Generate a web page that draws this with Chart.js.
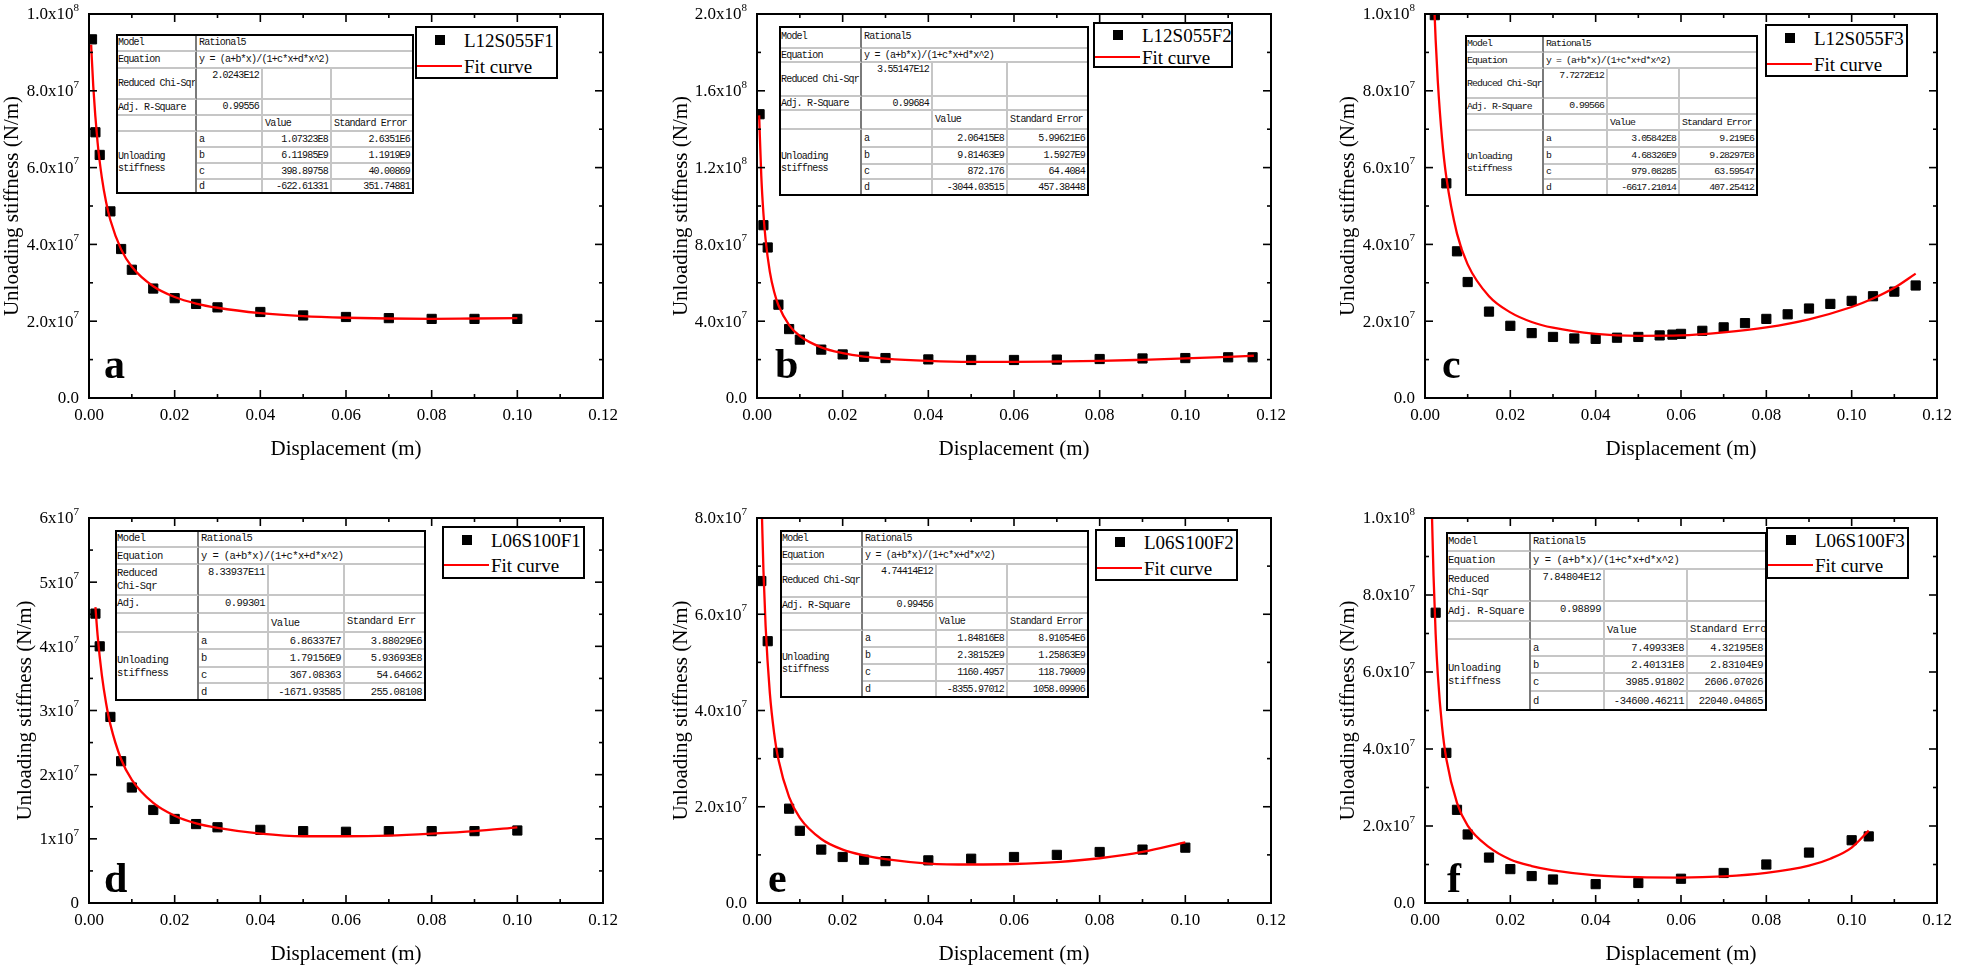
<!DOCTYPE html>
<html>
<head>
<meta charset="utf-8">
<script src="https://cdn.jsdelivr.net/npm/chart.js@4.4.1/dist/chart.umd.min.js"></script>
<style>
  html, body { margin: 0; padding: 0; background: #fff; }
  #page { position: relative; width: 1961px; height: 966px; overflow: hidden; background: #fff; }
  #page canvas { position: absolute; }
  .fit-table { position: absolute; box-sizing: border-box; border: 2px solid #000; background: #fff;
    overflow: hidden; font-family: 'Liberation Mono', 'DejaVu Sans Mono', monospace; color: #111; }
  .cell { position: absolute; box-sizing: border-box; display: flex; overflow: hidden;
    border-right: 2px solid #c6c6c6; border-bottom: 2px solid #c6c6c6;
    padding: 1px 2px 0 2px; line-height: 1.2; white-space: nowrap; }
  .cell.first { border-right-color: #7a7a7a; }
  .legend { position: absolute; box-sizing: border-box; border: 2px solid #000; background: #fff;
    font-family: 'Liberation Serif', 'Times New Roman', serif; font-size: 19px; color: #000; }
  .legend div { position: absolute; }
  .legend .txt { line-height: 1; transform: translateY(-50%); white-space: nowrap; }
</style>
</head>
<body>
<div id="page"></div>
<script>
// ---- shared axis ticks ----
const xTicks = [0, 0.02, 0.04, 0.06, 0.08, 0.10, 0.12];
const xTickLabels = ['0.00', '0.02', '0.04', '0.06', '0.08', '0.10', '0.12'];

// ---- a: L12S055F1 ----
const xA = [0.0007, 0.0015, 0.0025, 0.005, 0.0075, 0.01, 0.015, 0.02, 0.025, 0.03, 0.04, 0.05, 0.06, 0.07, 0.08, 0.09, 0.1];
const yA = [9.34e7, 6.92e7, 6.33e7, 4.86e7, 3.88e7, 3.34e7, 2.85e7, 2.60e7, 2.45e7, 2.36e7, 2.24e7, 2.15e7, 2.11e7, 2.08e7, 2.06e7, 2.06e7, 2.06e7];
const fitXA = [0.0005, 0.001, 0.002, 0.003, 0.004, 0.005, 0.0075, 0.01, 0.015, 0.02, 0.025, 0.03, 0.04, 0.05, 0.06, 0.07, 0.08, 0.09, 0.1];
const fitYA = [9.20e7, 8.11e7, 6.66e7, 5.74e7, 5.10e7, 4.63e7, 3.87e7, 3.42e7, 2.91e7, 2.63e7, 2.46e7, 2.35e7, 2.21e7, 2.13e7, 2.09e7, 2.07e7, 2.06e7, 2.07e7, 2.08e7];
const yTicksA = [0, 2e7, 4e7, 6e7, 8e7, 1e8];
const yLabelsA = ['0.0', '2.0x10^7', '4.0x10^7', '6.0x10^7', '8.0x10^7', '1.0x10^8'];
const statsA = ['2.0243E12', '0.99556'];
const valuesA = ['1.07323E8', '6.11985E9', '398.89758', '-622.61331'];
const errorsA = ['2.6351E6', '1.1919E9', '40.00869', '351.74881'];

// ---- b: L12S055F2 ----
const xB = [0.0006, 0.0015, 0.0025, 0.005, 0.0075, 0.01, 0.015, 0.02, 0.025, 0.03, 0.04, 0.05, 0.06, 0.07, 0.08, 0.09, 0.1, 0.11, 0.1157];
const yB = [1.478e8, 9.0e7, 7.84e7, 4.86e7, 3.59e7, 3.04e7, 2.52e7, 2.27e7, 2.15e7, 2.08e7, 2.01e7, 1.98e7, 1.98e7, 2.0e7, 2.03e7, 2.06e7, 2.08e7, 2.12e7, 2.12e7];
const fitXB = [0.0005, 0.001, 0.0015, 0.002, 0.003, 0.004, 0.005, 0.0075, 0.01, 0.015, 0.02, 0.025, 0.03, 0.04, 0.05, 0.06, 0.07, 0.08, 0.09, 0.1, 0.11, 0.116];
const fitYB = [1.472e8, 1.157e8, 9.61e7, 8.27e7, 6.57e7, 5.53e7, 4.83e7, 3.80e7, 3.23e7, 2.64e7, 2.34e7, 2.16e7, 2.05e7, 1.93e7, 1.88e7, 1.88e7, 1.90e7, 1.93e7, 1.99e7, 2.06e7, 2.14e7, 2.20e7];
const yTicksB = [0, 4e7, 8e7, 1.2e8, 1.6e8, 2e8];
const yLabelsB = ['0.0', '4.0x10^7', '8.0x10^7', '1.2x10^8', '1.6x10^8', '2.0x10^8'];
const statsB = ['3.55147E12', '0.99684'];
const valuesB = ['2.06415E8', '9.81463E9', '872.176', '-3044.03515'];
const errorsB = ['5.99621E6', '1.5927E9', '64.4084', '457.38448'];

// ---- c: L12S055F3 ----
const xC = [0.0023, 0.005, 0.0075, 0.01, 0.015, 0.02, 0.025, 0.03, 0.035, 0.04, 0.045, 0.05, 0.055, 0.058, 0.06, 0.065, 0.07, 0.075, 0.08, 0.085, 0.09, 0.095, 0.1, 0.105, 0.11, 0.115];
const yC = [9.97e7, 5.59e7, 3.82e7, 3.02e7, 2.25e7, 1.88e7, 1.69e7, 1.59e7, 1.55e7, 1.54e7, 1.57e7, 1.59e7, 1.63e7, 1.65e7, 1.67e7, 1.75e7, 1.84e7, 1.95e7, 2.06e7, 2.18e7, 2.33e7, 2.45e7, 2.53e7, 2.65e7, 2.77e7, 2.93e7];
const fitXC = [0.0022, 0.0025, 0.003, 0.004, 0.005, 0.0075, 0.01, 0.015, 0.02, 0.025, 0.03, 0.04, 0.05, 0.06, 0.07, 0.08, 0.09, 0.1, 0.105, 0.11, 0.115];
const fitYC = [1.013e8, 9.32e7, 8.25e7, 6.75e7, 5.75e7, 4.28e7, 3.48e7, 2.65e7, 2.23e7, 1.98e7, 1.83e7, 1.67e7, 1.62e7, 1.63e7, 1.71e7, 1.84e7, 2.05e7, 2.37e7, 2.59e7, 2.87e7, 3.24e7];
const yTicksC = [0, 2e7, 4e7, 6e7, 8e7, 1e8];
const yLabelsC = ['0.0', '2.0x10^7', '4.0x10^7', '6.0x10^7', '8.0x10^7', '1.0x10^8'];
const statsC = ['7.7272E12', '0.99566'];
const valuesC = ['3.05842E8', '4.68326E9', '979.08285', '-6617.21014'];
const errorsC = ['9.219E6', '9.28297E8', '63.59547', '407.25412'];

// ---- d: L06S100F1 ----
const xD = [0.0015, 0.0025, 0.005, 0.0075, 0.01, 0.015, 0.02, 0.025, 0.03, 0.04, 0.05, 0.06, 0.07, 0.08, 0.09, 0.1];
const yD = [4.51e7, 4.0e7, 2.90e7, 2.21e7, 1.80e7, 1.45e7, 1.31e7, 1.23e7, 1.18e7, 1.14e7, 1.12e7, 1.11e7, 1.12e7, 1.12e7, 1.12e7, 1.13e7];
const fitXD = [0.0015, 0.002, 0.003, 0.004, 0.005, 0.0075, 0.01, 0.015, 0.02, 0.025, 0.03, 0.04, 0.05, 0.06, 0.07, 0.08, 0.09, 0.1];
const fitYD = [4.61e7, 4.18e7, 3.55e7, 3.11e7, 2.78e7, 2.24e7, 1.92e7, 1.56e7, 1.36e7, 1.24e7, 1.17e7, 1.08e7, 1.04e7, 1.04e7, 1.05e7, 1.08e7, 1.12e7, 1.18e7];
const yTicksD = [0, 1e7, 2e7, 3e7, 4e7, 5e7, 6e7];
const yLabelsD = ['0', '1x10^7', '2x10^7', '3x10^7', '4x10^7', '5x10^7', '6x10^7'];
const statsD = ['8.33937E11', '0.99301'];
const valuesD = ['6.86337E7', '1.79156E9', '367.08363', '-1671.93585'];
const errorsD = ['3.88029E6', '5.93693E8', '54.64662', '255.08108'];

// ---- e: L06S100F2 ----
const xE = [0.001, 0.0025, 0.005, 0.0075, 0.01, 0.015, 0.02, 0.025, 0.03, 0.04, 0.05, 0.06, 0.07, 0.08, 0.09, 0.1];
const yE = [6.69e7, 5.44e7, 3.12e7, 1.96e7, 1.50e7, 1.11e7, 0.956e7, 0.90e7, 0.87e7, 0.886e7, 0.92e7, 0.956e7, 1.0e7, 1.06e7, 1.11e7, 1.15e7];
const fitXE = [0.00115, 0.0015, 0.002, 0.003, 0.004, 0.005, 0.0075, 0.01, 0.015, 0.02, 0.025, 0.03, 0.04, 0.05, 0.06, 0.07, 0.08, 0.09, 0.1];
const fitYE = [8.07e7, 6.92e7, 5.77e7, 4.36e7, 3.53e7, 2.98e7, 2.20e7, 1.77e7, 1.33e7, 1.11e7, 0.99e7, 0.91e7, 0.82e7, 0.80e7, 0.81e7, 0.85e7, 0.93e7, 1.06e7, 1.26e7];
const yTicksE = [0, 2e7, 4e7, 6e7, 8e7];
const yLabelsE = ['0.0', '2.0x10^7', '4.0x10^7', '6.0x10^7', '8.0x10^7'];
const statsE = ['4.74414E12', '0.99456'];
const valuesE = ['1.84816E8', '2.38152E9', '1160.4957', '-8355.97012'];
const errorsE = ['8.91054E6', '1.25863E9', '118.79009', '1058.09906'];

// ---- f: L06S100F3 ----
const xF = [0.0025, 0.005, 0.0075, 0.01, 0.015, 0.02, 0.025, 0.03, 0.04, 0.05, 0.06, 0.07, 0.08, 0.09, 0.1, 0.104];
const yF = [7.54e7, 3.90e7, 2.42e7, 1.78e7, 1.18e7, 0.88e7, 0.70e7, 0.61e7, 0.49e7, 0.52e7, 0.63e7, 0.78e7, 1.0e7, 1.31e7, 1.63e7, 1.73e7];
const fitXF = [0.00165, 0.002, 0.0025, 0.003, 0.004, 0.005, 0.0075, 0.01, 0.015, 0.02, 0.025, 0.03, 0.04, 0.05, 0.06, 0.07, 0.08, 0.09, 0.095, 0.1, 0.104];
const fitYF = [1.0e8, 8.50e7, 6.98e7, 5.94e7, 4.58e7, 3.74e7, 2.60e7, 2.01e7, 1.45e7, 1.13e7, 0.96e7, 0.85e7, 0.72e7, 0.67e7, 0.66e7, 0.69e7, 0.78e7, 0.97e7, 1.15e7, 1.44e7, 1.88e7];
const yTicksF = [0, 2e7, 4e7, 6e7, 8e7, 1e8];
const yLabelsF = ['0.0', '2.0x10^7', '4.0x10^7', '6.0x10^7', '8.0x10^7', '1.0x10^8'];
const statsF = ['7.84804E12', '0.98899'];
const valuesF = ['7.49933E8', '2.40131E8', '3985.91802', '-34600.46211'];
const errorsF = ['4.32195E8', '2.83104E9', '2606.07026', '22040.04865'];

const seriesNames = ['L12S055F1', 'L12S055F2', 'L12S055F3', 'L06S100F1', 'L06S100F2', 'L06S100F3'];

// ---- page geometry (pixels) ----
const colX = [0, 650, 1300], colW = [650, 650, 661];
const rowY = [0, 470], rowH = [470, 496];
const plotL = [89, 757, 1425], plotR = [603, 1271, 1937];
const plotT = [14, 518], plotB = [398, 903];

const panels = [
  { letter: 'a', col: 0, row: 0, x: xA, y: yA, fx: fitXA, fy: fitYA, yt: yTicksA, yl: yLabelsA, st: statsA, va: valuesA, er: errorsA,
    let: [15, -20], yTitle: 77,
    table: { left: 116, top: 34, cols: [81, 66, 69, 82], rows: [18, 17, 31, 16, 16, 16, 16, 16, 14], font: 10, ls: -0.8 },
    legend: { left: 415, top: 26, w: 143, h: 53, r1: 14, r2: 40 } },
  { letter: 'b', col: 1, row: 0, x: xB, y: yB, fx: fitXB, fy: fitYB, yt: yTicksB, yl: yLabelsB, st: statsB, va: valuesB, er: errorsB,
    let: [18, -20], yTitle: 76,
    table: { left: 779, top: 26, cols: [83, 71, 75, 81], rows: [23, 14, 34, 14, 19, 18, 17, 15, 16], font: 10, ls: -0.8 },
    legend: { left: 1093, top: 22, w: 140, h: 46, r1: 13, r2: 35 } },
  { letter: 'c', col: 2, row: 0, x: xC, y: yC, fx: fitXC, fy: fitYC, yt: yTicksC, yl: yLabelsC, st: statsC, va: valuesC, er: errorsC,
    let: [17, -20], yTitle: 77,
    table: { left: 1465, top: 35, cols: [79, 64, 72, 78], rows: [18, 16, 30, 16, 16, 17, 17, 15, 16], font: 9.8, ls: -0.9 },
    legend: { left: 1765, top: 24, w: 143, h: 53, r1: 14, r2: 40 } },
  { letter: 'd', col: 0, row: 1, x: xD, y: yD, fx: fitXD, fy: fitYD, yt: yTicksD, yl: yLabelsD, st: statsD, va: valuesD, er: errorsD,
    let: [15, -11], yTitle: 64,
    table: { left: 115, top: 530, cols: [84, 70, 76, 81], rows: [18, 17, 31, 18, 19, 17, 18, 16, 17], font: 10.5, ls: -0.6,
      chi: 'Reduced<br>Chi-Sqr', adj: 'Adj.<br>R-Square', se: 'Standard Err<br>or' },
    legend: { left: 442, top: 526, w: 143, h: 53, r1: 14, r2: 39 } },
  { letter: 'e', col: 1, row: 1, x: xE, y: yE, fx: fitXE, fy: fitYE, yt: yTicksE, yl: yLabelsE, st: statsE, va: valuesE, er: errorsE,
    let: [11, -11], yTitle: 76,
    table: { left: 780, top: 530, cols: [83, 74, 71, 81], rows: [18, 17, 33, 16, 17, 17, 17, 17, 16], font: 10, ls: -0.8 },
    legend: { left: 1095, top: 529, w: 143, h: 52, r1: 13, r2: 39 } },
  { letter: 'f', col: 2, row: 1, x: xF, y: yF, fx: fitXF, fy: fitYF, yt: yTicksF, yl: yLabelsF, st: statsF, va: valuesF, er: errorsF,
    let: [22, -11], yTitle: 77,
    table: { left: 1446, top: 532, cols: [85, 74, 83, 79], rows: [20, 18, 32, 20, 18, 17, 17, 18, 19], font: 10.5, ls: -0.45,
      chi: 'Reduced<br>Chi-Sqr', se: 'Standard Erro<br>r' },
    legend: { left: 1766, top: 527, w: 143, h: 52, r1: 13, r2: 38 } }
];

const page = document.getElementById('page');
const SERIF = '"Liberation Serif", "Times New Roman", serif';

function drawSciLabel(ctx, text, xr, y) {
  const parts = text.split('^');
  ctx.textAlign = 'right';
  ctx.textBaseline = 'middle';
  if (parts.length === 1) {
    ctx.font = '17px ' + SERIF;
    ctx.fillText(parts[0], xr, y);
    return;
  }
  ctx.font = '11px ' + SERIF;
  const ew = ctx.measureText(parts[1]).width;
  ctx.fillText(parts[1], xr, y - 7);
  ctx.font = '17px ' + SERIF;
  ctx.fillText(parts[0], xr - ew, y);
}

function framePlugin(p) {
  return {
    id: 'frame' + p.letter,
    afterDraw(chart) {
      const { ctx, chartArea: ca } = chart;
      const sx = chart.scales.x, sy = chart.scales.y;
      ctx.save();
      ctx.strokeStyle = '#000';
      ctx.fillStyle = '#000';

      // inward ticks on all four sides, major + minor
      ctx.lineWidth = 1.6;
      const tick = (x0, y0, x1, y1) => { ctx.beginPath(); ctx.moveTo(x0, y0); ctx.lineTo(x1, y1); ctx.stroke(); };
      xTicks.forEach((v, i) => {
        const px = sx.getPixelForValue(v);
        tick(px, ca.bottom, px, ca.bottom - 8);
        tick(px, ca.top, px, ca.top + 8);
        if (i < xTicks.length - 1) {
          const m = sx.getPixelForValue((v + xTicks[i + 1]) / 2);
          tick(m, ca.bottom, m, ca.bottom - 4);
          tick(m, ca.top, m, ca.top + 4);
        }
      });
      p.yt.forEach((v, i) => {
        const py = sy.getPixelForValue(v);
        tick(ca.left, py, ca.left + 8, py);
        tick(ca.right, py, ca.right - 8, py);
        if (i < p.yt.length - 1) {
          const m = sy.getPixelForValue((v + p.yt[i + 1]) / 2);
          tick(ca.left, m, ca.left + 4, m);
          tick(ca.right, m, ca.right - 4, m);
        }
      });

      // frame
      ctx.lineWidth = 2;
      ctx.strokeRect(ca.left, ca.top, ca.right - ca.left, ca.bottom - ca.top);

      // x tick labels + title
      ctx.font = '17px ' + SERIF;
      ctx.textAlign = 'center';
      ctx.textBaseline = 'middle';
      xTicks.forEach((v, i) => ctx.fillText(xTickLabels[i], sx.getPixelForValue(v), ca.bottom + 18));
      ctx.font = '21px ' + SERIF;
      ctx.fillText('Displacement (m)', (ca.left + ca.right) / 2, ca.bottom + 51);

      // y tick labels
      p.yt.forEach((v, i) => drawSciLabel(ctx, p.yl[i], ca.left - 10, sy.getPixelForValue(v) + 1));

      // y title
      ctx.save();
      ctx.translate(ca.left - p.yTitle, (ca.top + ca.bottom) / 2);
      ctx.rotate(-Math.PI / 2);
      ctx.font = '21px ' + SERIF;
      ctx.textAlign = 'center';
      ctx.textBaseline = 'middle';
      ctx.fillText('Unloading stiffness (N/m)', 0, 0);
      ctx.restore();

      // panel letter
      ctx.font = 'bold 42px ' + SERIF;
      ctx.textAlign = 'left';
      ctx.textBaseline = 'alphabetic';
      ctx.fillText(p.letter, ca.left + p.let[0], ca.bottom + p.let[1]);
      ctx.restore();
    }
  };
}

function buildChart(p, idx) {
  const canvas = document.createElement('canvas');
  const W = colW[p.col], H = rowH[p.row];
  canvas.width = W; canvas.height = H;
  canvas.style.left = colX[p.col] + 'px';
  canvas.style.top = rowY[p.row] + 'px';
  canvas.style.width = W + 'px';
  canvas.style.height = H + 'px';
  page.appendChild(canvas);

  const pad = {
    left: plotL[p.col] - colX[p.col],
    right: colX[p.col] + W - plotR[p.col],
    top: plotT[p.row] - rowY[p.row],
    bottom: rowY[p.row] + H - plotB[p.row]
  };

  new Chart(canvas, {
    type: 'line',
    data: {
      datasets: [
        {
          label: 'Fit curve',
          data: p.fx.map((v, i) => ({ x: v, y: p.fy[i] })),
          borderColor: '#ff0000',
          borderWidth: 2.3,
          pointRadius: 0,
          cubicInterpolationMode: 'monotone',
          fill: false,
          order: 0
        },
        {
          label: seriesNames[idx],
          data: p.x.map((v, i) => ({ x: v, y: p.y[i] })),
          showLine: false,
          pointStyle: 'rect',
          pointRadius: 6.5,
          pointBorderWidth: 1,
          backgroundColor: '#000',
          borderColor: '#000',
          order: 1
        }
      ]
    },
    options: {
      responsive: false,
      animation: false,
      devicePixelRatio: 1,
      events: [],
      layout: { padding: pad },
      scales: {
        x: { type: 'linear', min: 0, max: 0.12, display: false },
        y: { type: 'linear', min: 0, max: p.yt[p.yt.length - 1], display: false }
      },
      plugins: { legend: { display: false }, tooltip: { enabled: false } }
    },
    plugins: [framePlugin(p)]
  });
}

function buildTable(p) {
  const t = p.table;
  const div = document.createElement('div');
  div.className = 'fit-table';
  const cx = [0], ry = [0];
  t.cols.forEach(c => cx.push(cx[cx.length - 1] + c));
  t.rows.forEach(r => ry.push(ry[ry.length - 1] + r));
  Object.assign(div.style, {
    left: t.left + 'px', top: t.top + 'px',
    width: cx[4] + 'px', height: ry[9] + 'px',
    fontSize: t.font + 'px', letterSpacing: t.ls + 'px'
  });
  function cell(c0, c1, r0, r1, html, align, valign) {
    const d = document.createElement('div');
    d.className = 'cell' + (c0 === 0 ? ' first' : '');
    Object.assign(d.style, {
      left: (cx[c0] - 2) + 'px', top: (ry[r0] - 2) + 'px',
      width: (cx[c1] - cx[c0]) + 'px', height: (ry[r1] - ry[r0]) + 'px',
      justifyContent: align || 'flex-start', alignItems: valign || 'center'
    });
    d.innerHTML = '<span>' + html + '</span>';
    div.appendChild(d);
  }
  const R = 'flex-end', TOP = 'flex-start';
  cell(0, 1, 0, 1, 'Model');
  cell(1, 4, 0, 1, 'Rational5');
  cell(0, 1, 1, 2, 'Equation');
  cell(1, 4, 1, 2, 'y = (a+b*x)/(1+c*x+d*x^2)');
  cell(0, 1, 2, 3, t.chi || 'Reduced Chi-Sqr');
  cell(1, 2, 2, 3, p.st[0], R, TOP);
  cell(2, 3, 2, 3, '');
  cell(3, 4, 2, 3, '');
  cell(0, 1, 3, 4, t.adj || 'Adj. R-Square', null, t.adj ? TOP : null);
  cell(1, 2, 3, 4, p.st[1], R, TOP);
  cell(2, 3, 3, 4, '');
  cell(3, 4, 3, 4, '');
  cell(0, 1, 4, 5, '');
  cell(1, 2, 4, 5, '');
  cell(2, 3, 4, 5, 'Value');
  cell(3, 4, 4, 5, t.se || 'Standard Error', null, t.se ? TOP : null);
  cell(0, 1, 5, 9, 'Unloading<br>stiffness');
  ['a', 'b', 'c', 'd'].forEach((k, i) => {
    cell(1, 2, 5 + i, 6 + i, k);
    cell(2, 3, 5 + i, 6 + i, p.va[i], R);
    cell(3, 4, 5 + i, 6 + i, p.er[i], R);
  });
  page.appendChild(div);
}

function buildLegend(p, idx) {
  const l = p.legend;
  const d = document.createElement('div');
  d.className = 'legend';
  Object.assign(d.style, { left: l.left + 'px', top: l.top + 'px', width: l.w + 'px', height: l.h + 'px' });
  const sq = document.createElement('div');
  Object.assign(sq.style, { left: (25 - 5 - 2) + 'px', top: (l.r1 - 5 - 2) + 'px', width: '10px', height: '10px', background: '#000' });
  const ln = document.createElement('div');
  Object.assign(ln.style, { left: '0px', top: (l.r2 - 1.2 - 2) + 'px', width: '45px', height: '2.4px', background: '#ff0000' });
  const t1 = document.createElement('div');
  t1.className = 'txt';
  t1.textContent = seriesNames[idx];
  Object.assign(t1.style, { left: (49 - 2) + 'px', top: (l.r1 - 2) + 'px' });
  const t2 = document.createElement('div');
  t2.className = 'txt';
  t2.textContent = 'Fit curve';
  Object.assign(t2.style, { left: (49 - 2) + 'px', top: (l.r2 - 2) + 'px' });
  d.append(sq, ln, t1, t2);
  page.appendChild(d);
}

panels.forEach((p, i) => buildChart(p, i));
panels.forEach(p => buildTable(p));
panels.forEach((p, i) => buildLegend(p, i));
</script>
</body>
</html>
